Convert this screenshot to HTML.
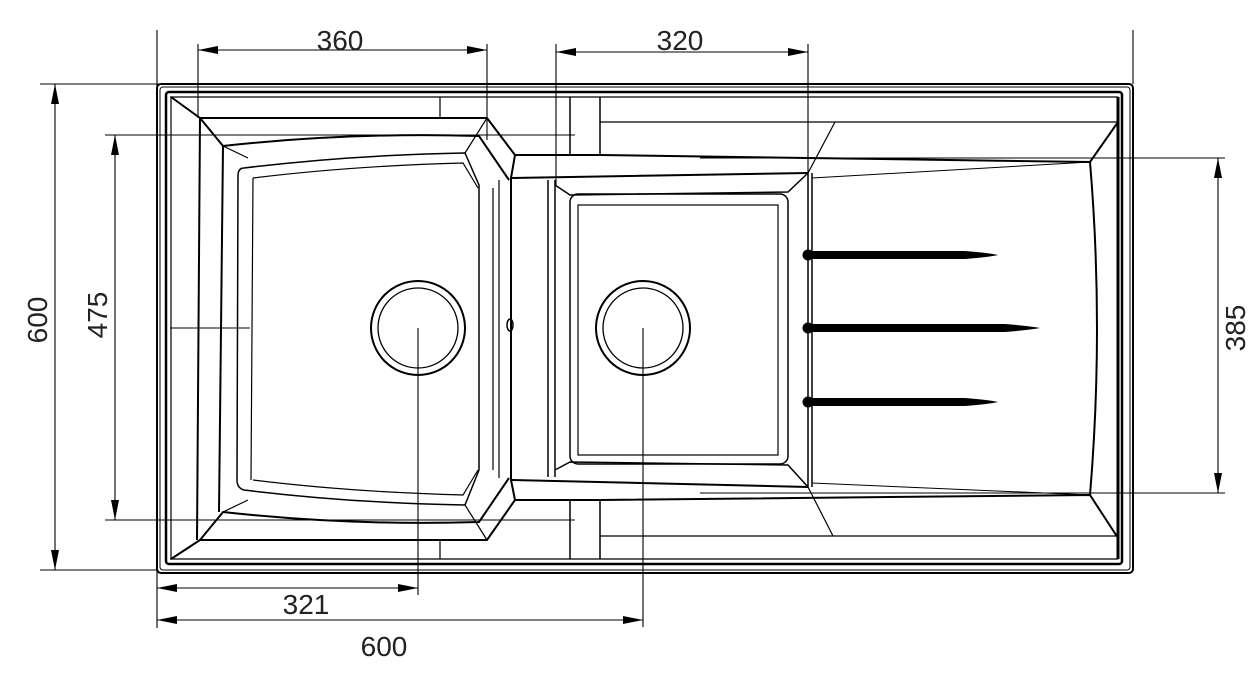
<!DOCTYPE html>
<html><head><style>
html,body{margin:0;padding:0;background:#fff;}
svg{display:block;}
text{font-family:"Liberation Sans",sans-serif;font-size:28px;fill:#222;}
</style></head><body>
<svg width="1254" height="691" viewBox="0 0 1254 691" xmlns="http://www.w3.org/2000/svg">
<defs>
<marker id="a" viewBox="0 0 20 8" refX="20" refY="4" markerWidth="20" markerHeight="8" orient="auto-start-reverse" markerUnits="userSpaceOnUse"><path d="M0,0 L20,4 L0,8 z" fill="#000"/></marker>
</defs>
<g fill="none" stroke="#000">
<rect x="157" y="84" width="976" height="489" rx="4" stroke-width="2"/>
<rect x="160" y="87" width="970" height="483" rx="3" stroke-width="1"/>
<rect x="166" y="92" width="956" height="472" rx="3" stroke-width="2.5"/>
<line x1="170" y1="97" x2="1118" y2="97" stroke-width="1.2"/>
<line x1="170" y1="559" x2="1118" y2="559" stroke-width="1.2"/>
<line x1="1118" y1="97" x2="1118" y2="559" stroke-width="3"/>
<line x1="171" y1="97" x2="171" y2="559" stroke-width="1.2"/>
<path d="M171,97 L200,118 L487,118 L515,155 L511,178 L511,480 L515,500 L487,540 L200,540 L171,559" stroke-width="2"/>
<path d="M200,118 L197,540" stroke-width="2"/>
<path d="M200,118 L223,146 Q350,132 479,136 L509,180 M200,540 L223,512 Q350,526 479,522 L509,478" stroke-width="2"/>
<path d="M223,146 L219,512" stroke-width="2"/>
<path d="M223,146 L248,158 M223,512 L248,500" stroke-width="1.2"/>
<path d="M244,168 Q350,155 465,153 L479,185 L479,470 L465,505 Q350,503 244,490 Q237,488 237,480 L238,176 Q238,168 244,168 Z" stroke-width="1.5"/>
<path d="M253,178 Q350,166 463,163 L478,188 M253,480 Q350,492 463,495 L478,470 M253,178 L251,480" stroke-width="1.2"/>
<path d="M465,153 L487,118 M465,505 L487,540" stroke-width="1.2"/>
<path d="M493,188 L493,470 M499,180 L499,478" stroke-width="1.2"/>
<circle cx="418" cy="328" r="47" stroke-width="2"/>
<circle cx="418" cy="328" r="40" stroke-width="1.3"/>
<ellipse cx="510" cy="325" rx="3" ry="6" stroke-width="1.5"/>
<path d="M515,155 L600,155 L1090,162 L1118,122" stroke-width="2"/>
<path d="M515,500 L600,500 L1090,495 L1118,538" stroke-width="2"/>
<path d="M512,178 L808,173 M512,480 L808,487" stroke-width="2"/>
<line x1="570" y1="97" x2="570" y2="155" stroke-width="1.5"/>
<line x1="600" y1="97" x2="600" y2="155" stroke-width="1.5"/>
<line x1="570" y1="500" x2="570" y2="559" stroke-width="1.5"/>
<line x1="600" y1="500" x2="600" y2="559" stroke-width="1.5"/>
<line x1="440" y1="97" x2="440" y2="118" stroke-width="1.2"/>
<line x1="440" y1="540" x2="440" y2="559" stroke-width="1.2"/>
<line x1="600" y1="122" x2="1118" y2="122" stroke-width="1.2"/>
<line x1="600" y1="536" x2="1118" y2="536" stroke-width="1.2"/>
<path d="M835,122 L808,173 M808,487 L833,536" stroke-width="1.2"/>
<path d="M548,180 L548,477 M555,180 L555,477" stroke-width="1.5"/>
<path d="M555,185 L570,195 L788,192 L808,173 M555,470 L570,462 L788,465 L808,487" stroke-width="1.5"/>
<rect x="570" y="194" width="218" height="270" rx="8" stroke-width="1.5"/>
<rect x="578" y="205" width="200" height="250" stroke-width="1.2"/>
<path d="M808,173 L808,487 M812,173 L812,487" stroke-width="1.5"/>
<circle cx="643" cy="328" r="47" stroke-width="2"/>
<circle cx="643" cy="328" r="40" stroke-width="1.3"/>
<path d="M1090,162 Q1104,328 1090,495" stroke-width="2"/>
<path d="M812,178 L1090,162 M812,483 L1090,495" stroke-width="1"/>
</g>
<g fill="#000">
<path d="M806,251 L965,251 Q990,253 998,255 Q990,257 965,259 L806,259 Z"/>
<circle cx="808" cy="255" r="5.5"/>
<path d="M806,324 L1005,324 Q1030,326 1040,328 Q1030,330 1005,332 L806,332 Z"/>
<circle cx="808" cy="328" r="5.5"/>
<path d="M806,398 L965,398 Q990,400 998,402 Q990,404 965,406 L806,406 Z"/>
<circle cx="808" cy="402" r="5.5"/>
</g>
<g fill="none" stroke="#000" stroke-width="1.1">
<line x1="418" y1="328" x2="418" y2="595"/>
<line x1="643" y1="328" x2="643" y2="627"/>
<line x1="170" y1="328" x2="250" y2="328"/>
<line x1="157" y1="30" x2="157" y2="628"/>
<line x1="1133" y1="30" x2="1133" y2="84"/>
<line x1="40" y1="84" x2="315" y2="84"/>
<line x1="40" y1="570" x2="157" y2="570"/>
<line x1="105" y1="135" x2="575" y2="135"/>
<line x1="105" y1="520" x2="575" y2="520"/>
<line x1="700" y1="158" x2="1225" y2="158"/>
<line x1="700" y1="493" x2="1225" y2="493"/>
<line x1="198" y1="44" x2="198" y2="118"/>
<line x1="487" y1="44" x2="487" y2="140"/>
<line x1="556" y1="44" x2="556" y2="185"/>
<line x1="808" y1="44" x2="808" y2="173"/>
<line x1="198" y1="50" x2="487" y2="50" marker-start="url(#a)" marker-end="url(#a)"/>
<line x1="556" y1="52" x2="808" y2="52" marker-start="url(#a)" marker-end="url(#a)"/>
<line x1="55" y1="84" x2="55" y2="570" marker-start="url(#a)" marker-end="url(#a)"/>
<line x1="115" y1="135" x2="115" y2="520" marker-start="url(#a)" marker-end="url(#a)"/>
<line x1="1218" y1="158" x2="1218" y2="493" marker-start="url(#a)" marker-end="url(#a)"/>
<line x1="157" y1="588" x2="418" y2="588" marker-start="url(#a)" marker-end="url(#a)"/>
<line x1="157" y1="620" x2="643" y2="620" marker-start="url(#a)" marker-end="url(#a)"/>
</g>
<text x="340" y="50" text-anchor="middle">360</text>
<text x="680" y="50" text-anchor="middle">320</text>
<rect x="300" y="0" width="90" height="29" fill="#fff"/>
<rect x="640" y="0" width="90" height="29" fill="#fff"/>
<text x="306" y="614" text-anchor="middle">321</text>
<text x="384" y="656" text-anchor="middle">600</text>
<text transform="translate(47,320) rotate(-90)" text-anchor="middle">600</text>
<text transform="translate(107,315) rotate(-90)" text-anchor="middle">475</text>
<text transform="translate(1245,328) rotate(-90)" text-anchor="middle">385</text>
</svg>
</body></html>
